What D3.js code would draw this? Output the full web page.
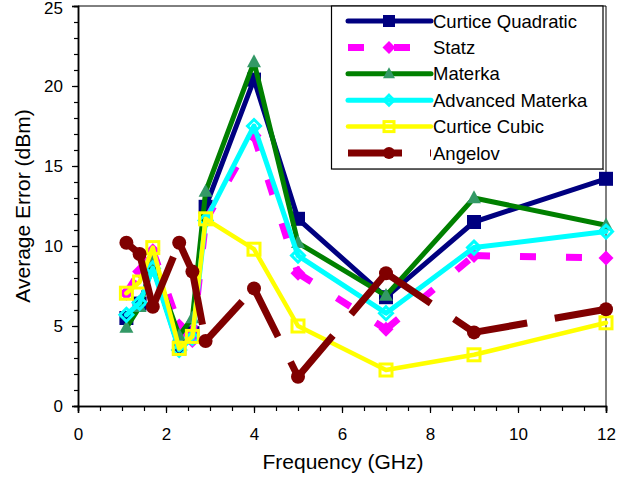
<!DOCTYPE html>
<html>
<head>
<meta charset="utf-8">
<script src="https://cdn.jsdelivr.net/npm/d3@7"></script>
<style>
  html, body { margin: 0; padding: 0; background: #fff; }
  svg { display: block; font-family: "Liberation Sans", Arial, sans-serif; }
</style>
</head>
<body>
<svg id="chart" width="631" height="482"></svg>
<script>
// ---- Data ----
const freq = [1.1, 1.4, 1.7, 2.3, 2.6, 2.9, 4, 5, 7, 9, 12];
const curticeQuadratic = [5.5, 6.4, 8.7, 3.6, 4.55, 12.45, 20.4, 11.7, 6.8, 11.5, 14.2];
const statz = [7.05, 8.4, 9.7, 5.0, 4.1, 11.6, 16.9, 8.3, 4.8, 9.4, 9.25];
const materka = [4.9, 6.2, 9.0, 4.4, 5.5, 13.4, 21.5, 10.2, 6.9, 13.0, 11.3];
const advancedMaterka = [5.7, 6.45, 8.6, 3.5, 4.25, 11.6, 17.5, 9.4, 5.8, 9.9, 10.9];
const curticeCubic = [7.05, 7.75, 9.9, 3.6, 4.35, 11.7, 9.8, 5.0, 2.25, 3.2, 5.2];
const angelov = [10.2, 9.5, 6.2, 10.2, 8.4, 4.06, 7.35, 1.83, 8.3, 4.6, 6.05];

const seriesNames = ["Curtice Quadratic", "Statz", "Materka", "Advanced Materka", "Curtice Cubic", "Angelov"];
const xTicks = [0, 2, 4, 6, 8, 10, 12];
const yTicks = [0, 5, 10, 15, 20, 25];
const xLabel = "Frequency (GHz)";
const yLabel = "Average Error (dBm)";

// ---- Styles ----
const styles = [
  { values: curticeQuadratic, line: "#000080", width: 5, dash: null, marker: "square", fill: "#000080", stroke: "none", size: 14 },
  { values: statz, line: "#FF00FF", width: 7, dash: "16,30", marker: "diamond", fill: "#FF00FF", stroke: "none", size: 15 },
  { values: materka, line: "#008000", width: 5, dash: null, marker: "triangle", fill: "#339966", stroke: "none", size: 14 },
  { values: advancedMaterka, line: "#00FFFF", width: 5, dash: null, marker: "diamond", fill: "none", stroke: "#00FFFF", strokeW: 3, size: 13 },
  { values: curticeCubic, line: "#FFFF00", width: 4.5, dash: null, marker: "square", fill: "none", stroke: "#FFFF00", strokeW: 3, size: 12 },
  { values: angelov, line: "#800000", width: 7, dash: "54,28", marker: "circle", fill: "#800000", stroke: "none", size: 14 }
];

const svg = d3.select("#chart");
const x = d3.scaleLinear().domain([0, 12]).range([78, 606]);
const y = d3.scaleLinear().domain([0, 25]).range([406, 6]);

// frame
svg.append("line").attr("x1", x(0)).attr("x2", x(12)).attr("y1", y(25)).attr("y2", y(25)).attr("stroke", "#000").attr("stroke-width", 1);
svg.append("line").attr("x1", x(12)).attr("x2", x(12)).attr("y1", y(25)).attr("y2", y(0)).attr("stroke", "#000").attr("stroke-width", 1);

// axes
const xMinor = d3.range(0, 12.01, 0.5);
const yMinor = d3.range(0, 25.01, 1);
const gxm = svg.append("g").attr("transform", `translate(0,${y(0)})`)
  .call(d3.axisBottom(x).tickValues(xMinor).tickSize(5).tickFormat(""));
const gx = svg.append("g").attr("transform", `translate(0,${y(0)})`)
  .call(d3.axisBottom(x).tickValues(xTicks).tickSize(7).tickPadding(15).tickFormat(d3.format("d")));
const gym = svg.append("g").attr("transform", `translate(${x(0)},0)`)
  .call(d3.axisLeft(y).tickValues(yMinor).tickSize(4).tickFormat(""));
const gy = svg.append("g").attr("transform", `translate(${x(0)},0)`)
  .call(d3.axisLeft(y).tickValues(yTicks).tickSize(6).tickPadding(9).tickFormat(d3.format("d")));
[gxm, gx, gym, gy].forEach(g => {
  g.select(".domain").attr("stroke", "#000").attr("stroke-width", 1.5);
  g.selectAll(".tick line").attr("stroke", "#000").attr("stroke-width", 1.2);
  g.selectAll(".tick text").attr("fill", "#000").attr("font-size", 17).attr("font-family", "Liberation Sans, Arial, sans-serif");
});
gx.selectAll(".tick text").attr("dy", "0.71em");
gy.selectAll(".tick text").filter(d => d === 25).attr("dy", "0.42em");

svg.append("text").attr("x", 343).attr("y", 469).attr("text-anchor", "middle")
  .attr("font-size", 21).text(xLabel);
svg.append("text").attr("transform", "translate(30,206) rotate(-90)").attr("text-anchor", "middle")
  .attr("font-size", 21).text(yLabel);

// marker drawer
function drawMarker(g, type, cx, cy, st) {
  const s = st.size, h = s / 2;
  let el;
  if (type === "square") {
    el = g.append("rect").attr("x", cx - h).attr("y", cy - h).attr("width", s).attr("height", s);
  } else if (type === "diamond") {
    el = g.append("path").attr("d", `M${cx},${cy - h}L${cx + h},${cy}L${cx},${cy + h}L${cx - h},${cy}Z`);
  } else if (type === "triangle") {
    el = g.append("path").attr("d", `M${cx},${cy - h * 1.1}L${cx + h},${cy + h * 0.75}L${cx - h},${cy + h * 0.75}Z`);
  } else {
    el = g.append("circle").attr("cx", cx).attr("cy", cy).attr("r", h);
  }
  el.attr("fill", st.fill).attr("stroke", st.stroke).attr("stroke-width", st.strokeW || 0);
}

const line = d3.line().x(d => x(d[0])).y(d => y(d[1]));

styles.forEach(st => {
  const g = svg.append("g");
  const pts = freq.map((f, i) => [f, st.values[i]]);
  if (st.dash) {
    for (let i = 0; i < pts.length - 1; i++) {
      g.append("path").attr("d", line([pts[i], pts[i + 1]])).attr("fill", "none")
        .attr("stroke", st.line).attr("stroke-width", st.width).attr("stroke-dasharray", st.dash);
    }
  } else {
    g.append("path").attr("d", line(pts)).attr("fill", "none")
      .attr("stroke", st.line).attr("stroke-width", st.width).attr("stroke-linejoin", "round").attr("stroke-linecap", "round");
  }
  pts.forEach(p => drawMarker(g, st.marker, x(p[0]), y(p[1]), st));
});

// legend
const lg = svg.append("g");
lg.append("rect").attr("x", 331.5).attr("y", 6).attr("width", 271.5).attr("height", 163)
  .attr("fill", "#fff").attr("stroke", "#000").attr("stroke-width", 1.2);
lg.append("line").attr("x1", 333).attr("x2", 604).attr("y1", 169.5).attr("y2", 169.5).attr("stroke", "#555").attr("stroke-width", 1);
const rowY = d3.scaleLinear().domain([0, 5]).range([21, 153]);
seriesNames.forEach((name, i) => {
  const st = styles[i];
  const cy = rowY(i);
  const l = lg.append("line").attr("x1", 348).attr("x2", 431).attr("y1", cy).attr("y2", cy)
    .attr("stroke", st.line).attr("stroke-width", st.width);
  if (st.dash) l.attr("stroke-dasharray", st.dash); else l.attr("stroke-linecap", "round");
  const ms = Object.assign({}, st, { size: st.marker === "diamond" && st.fill === "none" ? 10 : st.size - 2 });
  drawMarker(lg, st.marker, 389, cy, ms);
  lg.append("text").attr("x", 433).attr("y", cy + 6.5).attr("font-size", 18.5).attr("fill", "#000").text(name);
});
</script>
</body>
</html>
